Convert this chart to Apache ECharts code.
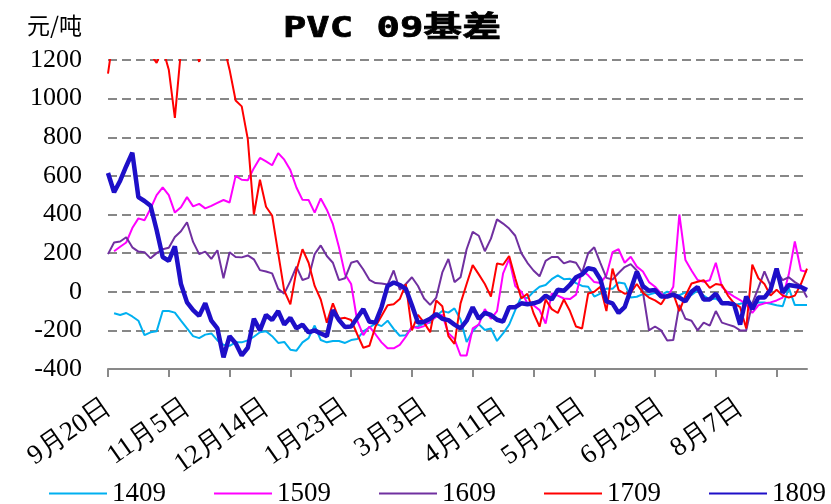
<!DOCTYPE html>
<html>
<head>
<meta charset="utf-8">
<script src="https://cdn.jsdelivr.net/npm/echarts@6/dist/echarts.min.js"></script>
<style>html,body{margin:0;padding:0;background:#fff;}#c{width:831px;height:504px;}</style>
</head>
<body>
<div id="c"></div>
<script>
// tick labels shown every 13 points (every 26 trading days in the source), ticks every 10 points
const tickLabels = ['9月20日','11月5日','12月14日','1月23日','3月3日','4月11日','5月21日','6月29日','8月7日'];
const seriesNames = ['1409','1509','1609','1709','1809'];

const s1409 = [null,-111,-120,-110,-128,-150,-225,-210,-205,-100,
 -100,-108,-150,-190,-230,-240,-222,-216,-252,-275,
 -280,-262,-262,-252,-233,-210,-205,-230,-265,-260,
 -300,-305,-262,-240,-175,-250,-262,-255,-255,-265,
 -250,-245,-205,-185,-165,-178,-150,-192,-228,-225,
 -185,-180,-164,-160,-125,-100,-108,-86,-144,-260,
 -205,-168,-198,-190,-255,-216,-170,-95,-26,-33,
 0,26,35,65,85,65,67,45,30,26,
 -25,-10,17,15,48,43,-30,-26,-12,-15,
 -5,-16,0,-15,-18,-3,-16,7,-20,-40,
 -35,-60,-60,-68,-62,-55,-58,-56,-56,-62,
 -70,-75,20,-69,-69,-69];

const s1509 = [null,210,233,255,330,380,370,430,500,540,
 500,410,438,490,442,455,432,445,460,475,
 462,600,580,577,640,693,675,655,718,684,
 630,540,476,475,410,483,425,350,230,90,
 40,-150,-225,-180,-220,-262,-293,-293,-275,-233,
 -181,-188,-178,-150,-130,-120,-215,-245,-330,-330,
 -190,-170,-90,-140,-100,95,170,30,0,-60,
 -70,-95,-165,-9,-20,-35,-38,-15,110,85,
 50,45,85,205,220,150,181,130,105,50,
 26,-10,-30,26,400,164,110,61,52,60,
 150,26,-5,-25,-43,-65,-110,-70,-60,-55,
 -45,-30,90,260,110,104];

const s1609 = [195,255,260,282,230,208,205,173,200,220,
 228,283,313,360,258,195,208,170,215,70,
 205,180,178,188,168,112,105,95,15,-10,
 55,130,61,72,195,240,185,150,60,70,
 150,160,115,62,45,43,37,110,10,40,
 75,30,-35,-68,-30,100,170,50,75,220,
 310,290,210,275,375,353,327,290,200,150,
 110,80,160,180,180,147,158,150,100,199,
 230,150,72,63,97,128,143,110,0,-200,
 -180,-200,-252,-250,-68,-140,-150,-200,-160,-175,
 -100,-160,-170,-180,-200,-200,-60,20,105,30,
 110,60,75,50,30,-30];

const s1709 = [1130,1350,1400,1450,1400,1350,1300,1230,1185,1260,
 1150,900,1250,1350,1300,1190,1350,1400,1350,1280,
 1150,990,960,790,400,580,440,395,200,5,
 -65,110,220,150,30,-40,-160,-60,-140,-135,
 -146,-220,-290,-280,-180,-125,-70,-65,-38,40,
 -200,-120,-160,-210,-45,-75,-230,-270,-60,40,
 138,90,40,-25,147,140,185,70,-35,-10,
 -110,-181,-40,-90,-110,-40,-100,-180,-190,-9,
 0,26,-100,120,9,-10,-5,40,-5,-30,
 -45,-65,-15,-10,-100,-20,43,52,60,20,
 40,35,-20,-60,-80,-190,140,70,40,-20,
 10,-20,-30,-20,40,120];

const s1809 = [615,515,575,650,720,490,470,445,320,180,
 160,235,40,-55,-95,-125,-60,-150,-190,-340,
 -230,-267,-330,-290,-140,-200,-120,-146,-100,-170,
 -135,-190,-170,-210,-200,-216,-230,-95,-146,-183,
 -180,-135,-90,-155,-160,-80,30,48,35,15,
 -70,-160,-155,-140,-115,-140,-147,-170,-190,-150,
 -80,-140,-110,-120,-145,-155,-80,-80,-60,-65,
 -60,-50,-20,-40,10,5,35,75,90,122,
 115,65,-50,-60,-110,-80,10,104,30,5,
 9,-25,-25,-15,-30,-50,0,25,-40,-40,
 -10,-60,-60,-65,-170,-25,-90,-30,-30,10,
 120,-5,35,30,25,9];

const seriesData = [s1409, s1509, s1609, s1709, s1809];
const seriesColors = ['#00B0F0', '#FF00FF', '#7030A0', '#FF0000', '#1E0FC8'];
const seriesWidths = [2, 2, 2, 2, 4.5];

const nPoints = s1809.length;
const labelStep = 13;
const categories = [];
for (let i = 0; i < nPoints; i++) categories.push(String(i));

const chart = echarts.init(document.getElementById('c'), null, {renderer: 'canvas'});
const serif = "'Liberation Serif', 'Times New Roman', serif";

chart.setOption({
  animation: false,
  backgroundColor: '#ffffff',
  graphic: [
    {
      type: 'text', x: 392, y: 29, scaleX: 1.34,
      style: {
        text: 'PVC 09基差', fill: '#000', stroke: '#000', lineWidth: 0.7,
        fontSize: 29, fontWeight: 'bold',
        fontFamily: "'DejaVu Sans Mono', 'Noto Sans CJK SC', sans-serif",
        align: 'center', verticalAlign: 'middle'
      }
    },
    {
      type: 'text', x: 27, y: 25,
      style: {
        text: '元/吨', fill: '#000', fontSize: 23,
        fontFamily: "'Noto Sans CJK SC', sans-serif",
        align: 'left', verticalAlign: 'middle'
      }
    }
  ],
  grid: { left: 108, right: 24, top: 60, bottom: 135, containLabel: false, outerBoundsMode: 'none' },
  legend: {
    left: 43, top: 475,
    itemWidth: 58, itemHeight: 14, itemGap: 47,
    itemStyle: { opacity: 0 },
    textStyle: { fontFamily: serif, fontSize: 27, color: '#000' },
    data: seriesNames
  },
  xAxis: {
    type: 'category',
    boundaryGap: false,
    data: categories,
    axisLine: { onZero: false, lineStyle: { color: '#898989', width: 2 } },
    axisTick: { show: true, interval: 9, length: 8, lineStyle: { color: '#898989', width: 2 } },
    axisLabel: {
      interval: labelStep - 1,
      rotate: 35,
      margin: 36,
      fontFamily: serif, fontSize: 27, color: '#000',
      formatter: function (v, i) { return (i % labelStep === 0) ? (tickLabels[i / labelStep] || '') : ''; }
    },
    splitLine: { show: false }
  },
  yAxis: {
    type: 'value',
    min: -400, max: 1200, interval: 200,
    axisLine: { show: false },
    axisTick: { show: false },
    axisLabel: { fontFamily: serif, fontSize: 26, color: '#000', margin: 26,
      formatter: function (v) { return String(v); } },
    splitLine: { show: true, lineStyle: { color: '#878787', width: 2, type: [9, 5] } }
  },
  series: seriesNames.map(function (name, k) {
    return {
      name: name,
      type: 'line',
      data: seriesData[k],
      showSymbol: false,
      symbol: 'none',
      clip: true,
      connectNulls: false,
      color: seriesColors[k],
      lineStyle: { color: seriesColors[k], width: seriesWidths[k] },
      z: 2 + k
    };
  })
});
</script>
</body>
</html>
